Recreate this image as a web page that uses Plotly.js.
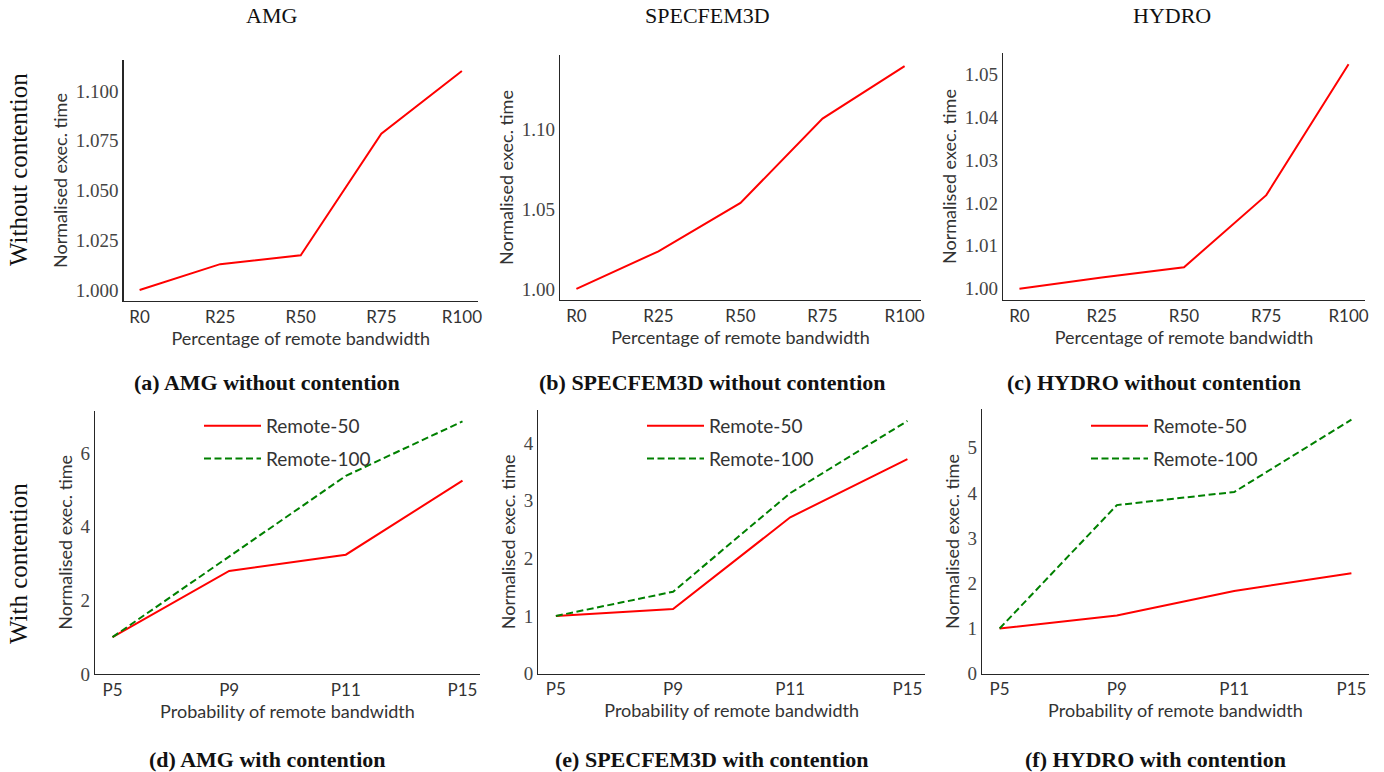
<!DOCTYPE html>
<html>
<head>
<meta charset="utf-8">
<script src="https://cdn.plot.ly/plotly-3.0.1.min.js"></script>
<style>html,body{margin:0;padding:0;background:#fff;}#chart{width:1384px;height:772px;}</style>
</head>
<body>
<div id="chart"></div>
<script>
// ---- data ----
const bwCats = ['R0', 'R25', 'R50', 'R75', 'R100'];
const probCats = ['P5', 'P9', 'P11', 'P15'];
const amgNoCont = [1.000, 1.013, 1.0175, 1.0785, 1.110];
const specNoCont = [1.000, 1.0236, 1.054, 1.107, 1.140];
const hydroNoCont = [1.000, 1.0026, 1.005, 1.0218, 1.0523];
const amgR50 = [1.0, 2.80, 3.24, 5.25];
const amgR100 = [1.0, 3.19, 5.38, 6.86];
const specR50 = [1.0, 1.12, 2.71, 3.72];
const specR100 = [1.0, 1.42, 3.13, 4.38];
const hydroR50 = [1.0, 1.29, 1.83, 2.22];
const hydroR100 = [1.0, 3.73, 4.02, 5.62];
const seriesNames = ['Remote-50', 'Remote-100'];
const colTitles = ['AMG', 'SPECFEM3D', 'HYDRO'];
const rowTitles = ['Without contention', 'With contention'];
const captions = ['(a) AMG without contention', '(b) SPECFEM3D without contention', '(c) HYDRO without contention',
                  '(d) AMG with contention', '(e) SPECFEM3D with contention', '(f) HYDRO with contention'];
const xTitleTop = 'Percentage of remote bandwidth';
const xTitleBottom = 'Probability of remote bandwidth';
const yTitle = 'Normalised exec. time';

// ---- style ----
const W = 1384, H = 772;
const SANS = 'Lato, "Open Sans", sans-serif';
const SERIF = '"Liberation Serif", "DejaVu Serif", serif';
const RED = '#ff0000', GREEN = '#008000';
const px = v => v / W;
const py = v => 1 - v / H;

function xa(dom, rng, title, anchor) {
  return {
    domain: dom, range: rng, anchor: anchor, type: 'category',
    showline: true, linecolor: '#262626', linewidth: 1.3, showgrid: false, zeroline: false,
    ticks: '', tickfont: {family: SANS, size: 17, color: '#333'},
    title: {text: title, font: {family: SANS, size: 18, color: '#333'}, standoff: 6},
    fixedrange: true
  };
}
function ya(dom, rng, dtick, fmt, anchor) {
  return {
    domain: dom, range: rng, anchor: anchor, tick0: 0, dtick: dtick, tickformat: fmt,
    showline: true, linecolor: '#262626', linewidth: 1.3, showgrid: false, zeroline: false,
    ticks: '', tickfont: {family: SERIF, size: 19, color: '#444'},
    title: {text: yTitle, font: {family: SANS, size: 18, color: '#333'}, standoff: 3},
    fixedrange: true
  };
}

const traces = [
  {x: bwCats, y: amgNoCont, xaxis: 'x', yaxis: 'y', showlegend: false},
  {x: bwCats, y: specNoCont, xaxis: 'x2', yaxis: 'y2', showlegend: false},
  {x: bwCats, y: hydroNoCont, xaxis: 'x3', yaxis: 'y3', showlegend: false},
  {x: probCats, y: amgR50, xaxis: 'x4', yaxis: 'y4', name: seriesNames[0], legend: 'legend', legendgroup: 'a1'},
  {x: probCats, y: amgR100, xaxis: 'x4', yaxis: 'y4', name: seriesNames[1], legend: 'legend', legendgroup: 'a2', dash: true},
  {x: probCats, y: specR50, xaxis: 'x5', yaxis: 'y5', name: seriesNames[0], legend: 'legend2', legendgroup: 'b1'},
  {x: probCats, y: specR100, xaxis: 'x5', yaxis: 'y5', name: seriesNames[1], legend: 'legend2', legendgroup: 'b2', dash: true},
  {x: probCats, y: hydroR50, xaxis: 'x6', yaxis: 'y6', name: seriesNames[0], legend: 'legend3', legendgroup: 'c1'},
  {x: probCats, y: hydroR100, xaxis: 'x6', yaxis: 'y6', name: seriesNames[1], legend: 'legend3', legendgroup: 'c2', dash: true}
].map(t => {
  const d = t.dash; delete t.dash;
  return Object.assign({
    type: 'scatter', mode: 'lines', hoverinfo: 'skip',
    line: d ? {color: GREEN, width: 2, dash: '7px,3.5px'} : {color: RED, width: 2}
  }, t);
});

function leg(xp, ytop) {
  return {x: px(xp), y: py(ytop), xanchor: 'left', yanchor: 'top', bgcolor: 'rgba(0,0,0,0)',
          font: {family: SANS, size: 19, color: '#333'}, tracegroupgap: 5, itemwidth: 57};
}

const annotations = [];
[[271, 16], [707, 16], [1172, 16]].forEach((p, i) => annotations.push({
  text: colTitles[i], x: px(p[0]), y: py(p[1]), xref: 'paper', yref: 'paper', showarrow: false,
  xanchor: 'center', yanchor: 'middle', font: {family: SERIF, size: 22, color: '#111'}
}));
[[18, 170], [18, 564]].forEach((p, i) => annotations.push({
  text: rowTitles[i], x: px(p[0]), y: py(p[1]), xref: 'paper', yref: 'paper', showarrow: false,
  xanchor: 'center', yanchor: 'middle', textangle: -90, font: {family: SERIF, size: 25, color: '#111'}
}));
[[267, 382], [712, 382], [1154, 382], [267, 759], [711, 759], [1155, 759]].forEach((p, i) => annotations.push({
  text: '<b>' + captions[i] + '</b>', x: px(p[0]), y: py(p[1]), xref: 'paper', yref: 'paper', showarrow: false,
  xanchor: 'center', yanchor: 'middle', font: {family: SERIF, size: 22, color: '#111'}
}));

const layout = {
  width: W, height: H, margin: {l: 0, r: 0, t: 0, b: 0}, paper_bgcolor: '#fff', plot_bgcolor: '#fff',
  showlegend: true,
  xaxis:  xa([px(123.5), px(478)], [-0.2, 4.2], xTitleTop, 'y'),
  yaxis:  ya([py(301), py(60)], [0.9945, 1.1155], 0.025, '.3f', 'x'),
  xaxis2: xa([px(560), px(921)], [-0.2, 4.2], xTitleTop, 'y2'),
  yaxis2: ya([py(300), py(55)], [0.993, 1.147], 0.05, '.2f', 'x2'),
  xaxis3: xa([px(1003), px(1365)], [-0.2, 4.2], xTitleTop, 'y3'),
  yaxis3: ya([py(300), py(53)], [0.99738, 1.0549], 0.01, '.2f', 'x3'),
  xaxis4: xa([px(95), px(480)], [-0.15, 3.15], xTitleBottom, 'y4'),
  yaxis4: ya([py(674), py(410.7)], [0, 7.15], 2, 'd', 'x4'),
  xaxis5: xa([px(538.3), px(925)], [-0.15, 3.15], xTitleBottom, 'y5'),
  yaxis5: ya([py(673.7), py(410)], [0, 4.57], 1, 'd', 'x5'),
  xaxis6: xa([px(982), px(1369)], [-0.15, 3.15], xTitleBottom, 'y6'),
  yaxis6: ya([py(673.7), py(409.3)], [0, 5.85], 1, 'd', 'x6'),
  legend: leg(199, 407),
  legend2: leg(642, 407),
  legend3: leg(1086, 407),
  annotations: annotations
};

Plotly.newPlot('chart', traces, layout, {displayModeBar: false, staticPlot: true});
</script>
</body>
</html>
